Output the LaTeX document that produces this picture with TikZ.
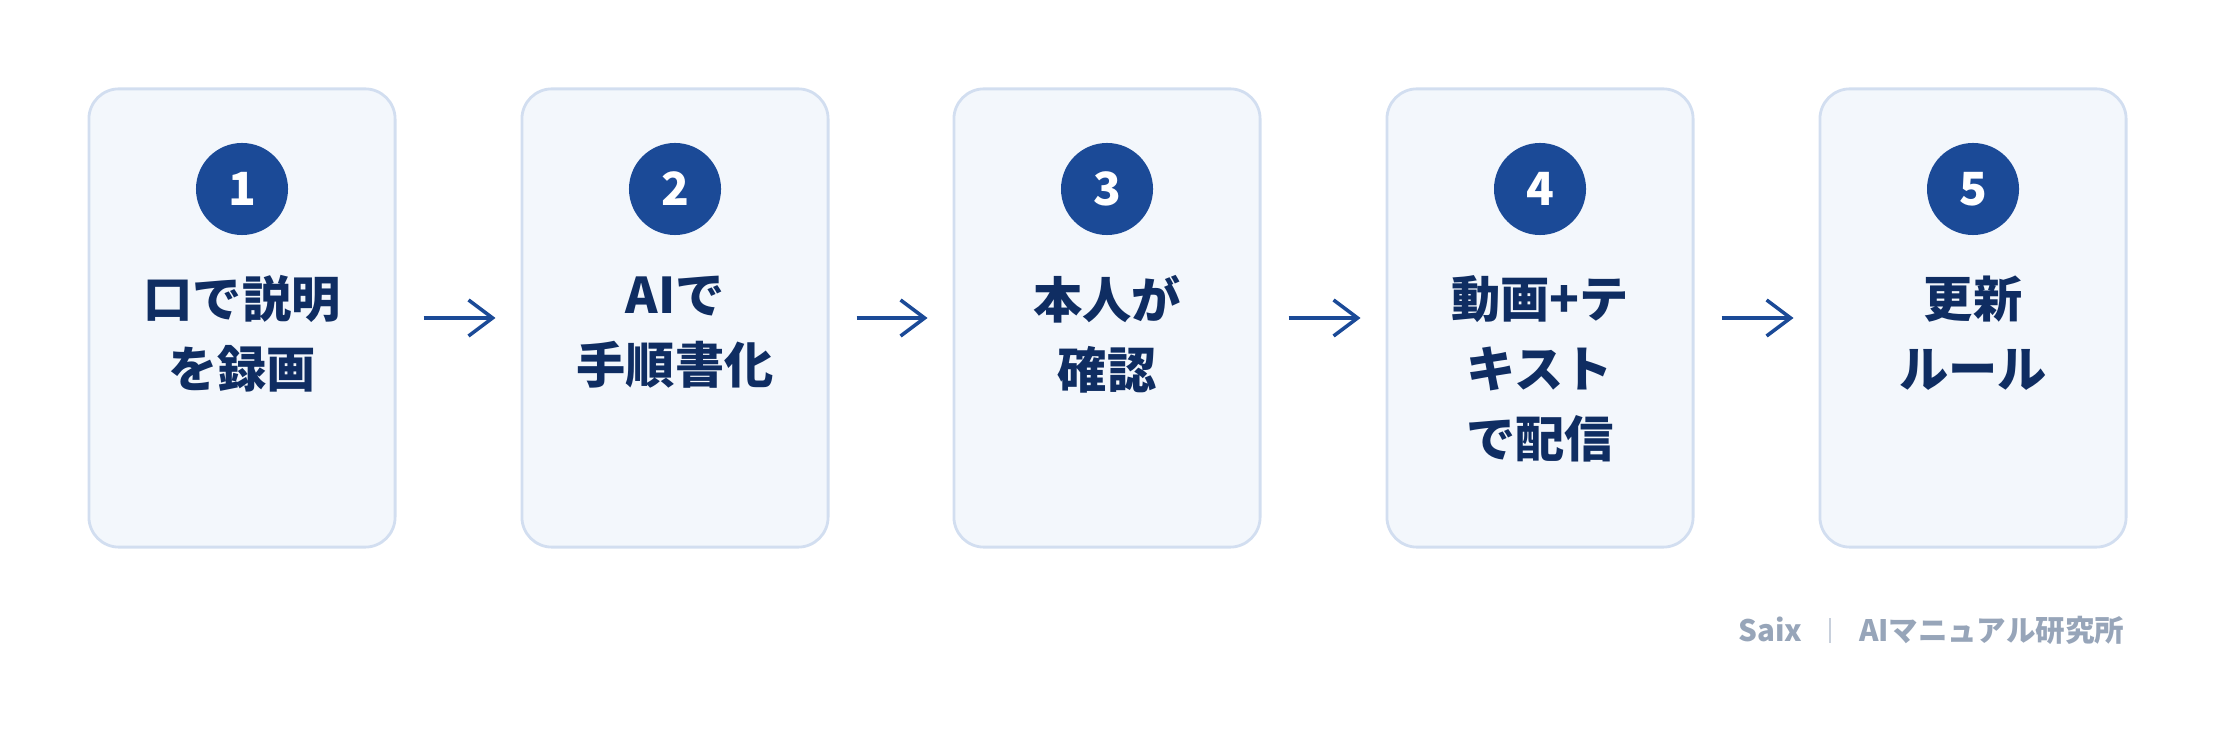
\documentclass[tikz,border=0pt]{standalone}
\usepackage{fontspec}
\setmainfont{Noto Sans CJK JP}
\usetikzlibrary{arrows.meta}
\definecolor{boxfill}{HTML}{F3F7FC}
\definecolor{boxline}{HTML}{D2DEF0}
\definecolor{dotblue}{HTML}{1B4A97}
\definecolor{labelnavy}{HTML}{0F2D62}
\definecolor{footgray}{HTML}{97A5B9}
\definecolor{footbar}{HTML}{C8D0DC}

\begin{document}
\begin{tikzpicture}[x=0.01cm, y=-0.01cm,
        stepbox/.style={draw=boxline, fill=boxfill, line width=0.8pt, rounded corners=0.3cm,
            minimum width=3.06cm, minimum height=4.58cm, inner sep=0pt},
        numdot/.style={circle, fill=dotblue, text=white, minimum size=0.92cm, inner sep=0pt,
            font=\bfseries\fontsize{13}{13}\selectfont},
        steplabel/.style={anchor=north, align=center, text=labelnavy, inner sep=0pt,
            font=\bfseries\fontsize{14}{19.9}\selectfont},
        flow/.style={draw=dotblue, line width=1pt,
            -{Straight Barb[length=0.24cm, width=0.36cm, line width=1pt]},
            shorten <=0.27cm, shorten >=0.25cm},
        footnote/.style={text=footgray, inner sep=0pt,
            font=\bfseries\fontsize{8.4}{10}\selectfont}]
        \useasboundingbox (0,0) rectangle (2216,731);
        % Step 1: record the spoken explanation
        \node[stepbox] (b1) at (242,318) {};
        \node[numdot] (n1) at (242,189) {1};
        \node[steplabel] (t1) at (242,275) {口で説明\\を録画};
        % Step 2: AI writes the procedure
        \node[stepbox] (b2) at (675,318) {};
        \node[numdot] (n2) at (675,189) {2};
        \node[steplabel] (t2) at (675,275) {AIで\\手順書化};
        % Step 3: check by the person
        \node[stepbox] (b3) at (1107,318) {};
        \node[numdot] (n3) at (1107,189) {3};
        \node[steplabel] (t3) at (1107,275) {本人が\\確認};
        % Step 4: distribute
        \node[stepbox] (b4) at (1540,318) {};
        \node[numdot] (n4) at (1540,189) {4};
        \node[steplabel] (t4) at (1540,275) {動画+テ\\キスト\\で配信};
        % Step 5: update rule
        \node[stepbox] (b5) at (1973,318) {};
        \node[numdot] (n5) at (1973,189) {5};
        \node[steplabel] (t5) at (1973,275) {更新\\ルール};
        % Flow between the steps
        \draw[flow] (b1) -- (b2);
        \draw[flow] (b2) -- (b3);
        \draw[flow] (b3) -- (b4);
        \draw[flow] (b4) -- (b5);
        % Footer
        \node[footnote, anchor=base west] (saix) at (1738,641) {Saix};
        \node[footnote, anchor=base east] (lab) at (2125,641) {AIマニュアル研究所};
        \draw[footbar, line width=0.4pt] (1830,618) -- (1830,643);
    \end{tikzpicture}
\end{document}
